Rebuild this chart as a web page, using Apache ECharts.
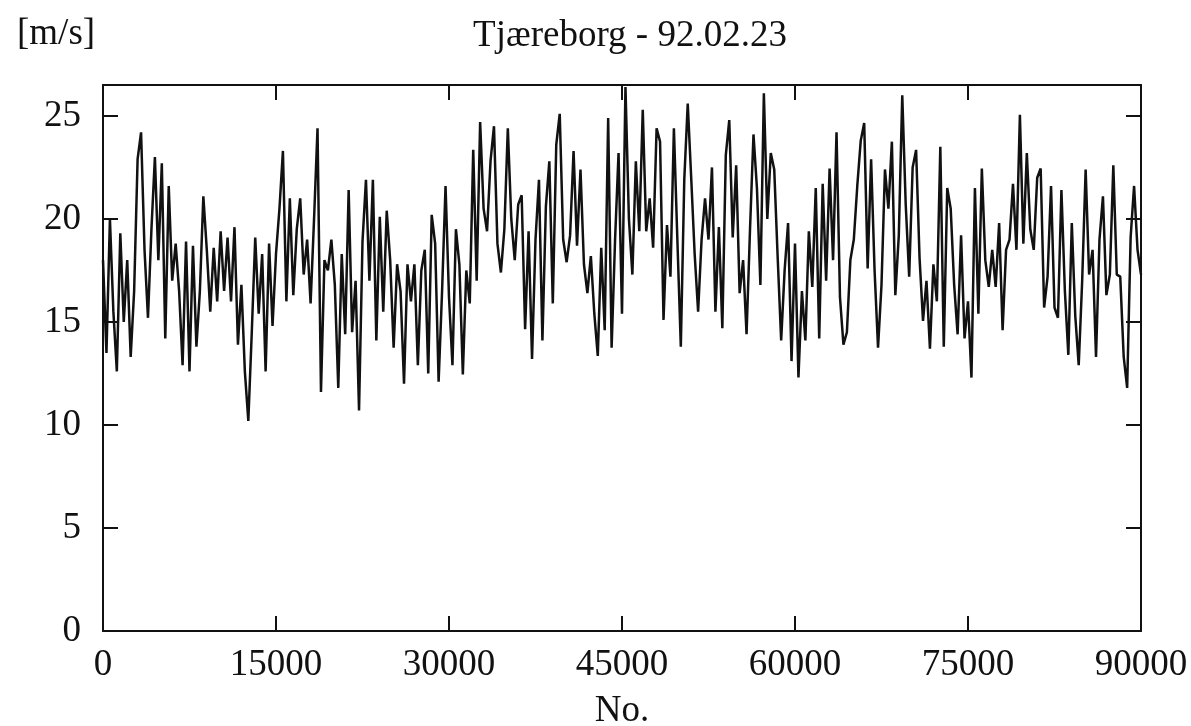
<!DOCTYPE html>
<html>
<head>
<meta charset="utf-8">
<script src="https://cdn.jsdelivr.net/npm/echarts@6/dist/echarts.min.js"></script>
<style>
  html, body { margin: 0; padding: 0; background: #fff; }
  #main { width: 1191px; height: 726px; }
</style>
</head>
<body>
<div id="main"></div>
<script>
// wind speed [m/s], one reading every 300 samples (envelope)
var sampleStep = 300;
var speed = [
  18.0, 13.5, 20.0, 15.5, 12.6, 19.3, 15.0, 18.0, 13.3, 16.5,
  22.9, 24.2, 18.5, 15.2, 19.5, 23.0, 18.0, 22.7, 14.2, 21.6,
  17.0, 18.8, 16.5, 12.9, 18.9, 12.6, 18.7, 13.8, 16.5, 21.1,
  18.5, 15.5, 18.6, 16.0, 19.4, 16.5, 19.1, 16.0, 19.6, 13.9,
  16.8, 12.6, 10.2, 14.5, 19.1, 15.4, 18.3, 12.6, 18.8, 14.8,
  18.3, 20.5, 23.3, 16.0, 21.0, 16.3, 19.5, 21.0, 17.3, 19.0,
  15.9, 20.0, 24.4, 11.6, 18.0, 17.5, 19.0, 16.8, 11.8, 18.3,
  14.4, 21.4, 14.5, 17.0, 10.7, 18.9, 21.9, 17.0, 21.9, 14.1,
  20.1, 15.5, 20.4, 18.0, 13.75, 17.8, 16.5, 12.0, 17.8, 16.0,
  17.8, 12.9, 17.5, 18.5, 12.5, 20.2, 18.8, 12.1, 16.5, 21.6,
  16.2, 12.9, 19.5, 17.8, 12.45, 17.5, 15.9, 23.35, 17.0, 24.7,
  20.5, 19.4, 22.8, 24.5, 18.8, 17.4, 19.5, 24.4, 20.0, 18.0,
  20.7, 21.15, 14.65, 19.4, 13.2, 19.0, 21.9, 14.1, 20.6, 22.8,
  15.9, 23.6, 25.1, 19.0, 17.9, 19.2, 23.3, 18.7, 22.4, 17.8,
  16.4, 18.2, 15.4, 13.35, 18.6, 14.6, 24.9, 13.75, 19.0, 23.2,
  15.4, 26.4, 20.0, 17.3, 22.8, 19.4, 25.3, 19.4, 21.0, 18.6,
  24.4, 23.75, 15.1, 19.7, 17.2, 24.4, 19.0, 13.8, 21.9, 25.6,
  22.0, 18.3, 15.5, 19.0, 21.0, 19.0, 22.5, 15.5, 19.6, 14.7,
  23.1, 24.8, 19.1, 22.6, 16.4, 18.0, 14.4, 19.5, 24.1, 21.5,
  16.8, 26.1, 20.0, 23.2, 22.4, 18.1, 14.1, 17.5, 19.8, 13.1,
  18.8, 12.3, 16.5, 14.1, 19.4, 16.7, 21.5, 14.2, 21.7, 17.0,
  22.45, 18.0, 24.2, 16.2, 13.9, 14.5, 18.0, 19.0, 21.6, 23.8,
  24.65, 17.6, 22.9, 17.5, 13.75, 16.8, 22.4, 20.5, 23.75, 16.3,
  19.2, 26.0, 20.7, 17.2, 22.5, 23.35, 18.1, 15.05, 17.0, 13.7,
  17.8, 16.0, 23.5, 13.8, 21.5, 20.5, 16.8, 14.4, 19.2, 14.2,
  16.0, 12.3, 21.5, 15.4, 22.45, 18.0, 16.7, 18.5, 16.7, 19.8,
  14.6, 18.5, 19.0, 21.7, 18.5, 25.05, 18.8, 23.2, 19.5, 18.5,
  22.0, 22.45, 15.7, 17.2, 21.6, 15.7, 15.2, 21.4, 16.5, 13.4,
  19.8, 15.3, 12.9, 17.0, 22.4, 17.3, 18.5, 13.3, 19.0, 21.1,
  16.3, 17.3, 22.6, 17.3, 17.2, 13.3, 11.8, 19.1, 21.6, 18.5,
  17.3
];

var myChart = echarts.init(document.getElementById('main'));

var serif = 'Liberation Serif';
var ink = '#111';

var points = [];
for (var i = 0; i < speed.length; i++) {
  points.push([i * sampleStep, speed[i]]);
}

// frame: all four sides drawn, ticks pointing inward
var frameLine = { show: true, onZero: false, lineStyle: { color: ink, width: 2 } };
var frameTick = { show: true, inside: true, length: 15, lineStyle: { color: ink, width: 2 } };

option = {
  backgroundColor: '#fff',
  animation: false,
  title: [
    {
      text: 'Tjæreborg - 92.02.23',
      left: 625,
      textAlign: 'center',
      top: 13,
      textStyle: { fontFamily: serif, fontWeight: 'normal', fontSize: 37, color: ink }
    },
    {
      text: '[m/s]',
      left: 12,
      top: 11,
      textStyle: { fontFamily: serif, fontWeight: 'normal', fontSize: 37, color: ink }
    }
  ],
  grid: { left: 103, right: 50, top: 85, bottom: 95, outerBoundsMode: 'none' },
  xAxis: [
    {
      type: 'value',
      min: 0, max: 90000, interval: 15000,
      name: 'No.',
      nameLocation: 'middle',
      nameGap: 62,
      nameTextStyle: { fontFamily: serif, fontSize: 37, color: ink },
      axisLine: frameLine,
      axisTick: frameTick,
      axisLabel: { fontFamily: serif, fontSize: 37, color: ink, margin: 16,
        formatter: function (v) { return String(v); } },
      splitLine: { show: false }
    },
    {
      type: 'value', position: 'top',
      min: 0, max: 90000, interval: 15000,
      axisLine: frameLine,
      axisTick: frameTick,
      axisLabel: { show: false },
      splitLine: { show: false }
    }
  ],
  yAxis: [
    {
      type: 'value',
      min: 0, max: 26.5, interval: 5,
      axisLine: frameLine,
      axisTick: frameTick,
      axisLabel: { fontFamily: serif, fontSize: 37, color: ink, margin: 22,
        showMaxLabel: false },
      splitLine: { show: false }
    },
    {
      type: 'value', position: 'right',
      min: 0, max: 26.5, interval: 5,
      axisLine: frameLine,
      axisTick: frameTick,
      axisLabel: { show: false },
      splitLine: { show: false }
    }
  ],
  series: [
    {
      type: 'line',
      data: points,
      showSymbol: false,
      symbol: 'none',
      lineStyle: { color: ink, width: 2.5 }
    }
  ]
};
myChart.setOption(option);
</script>
</body>
</html>
